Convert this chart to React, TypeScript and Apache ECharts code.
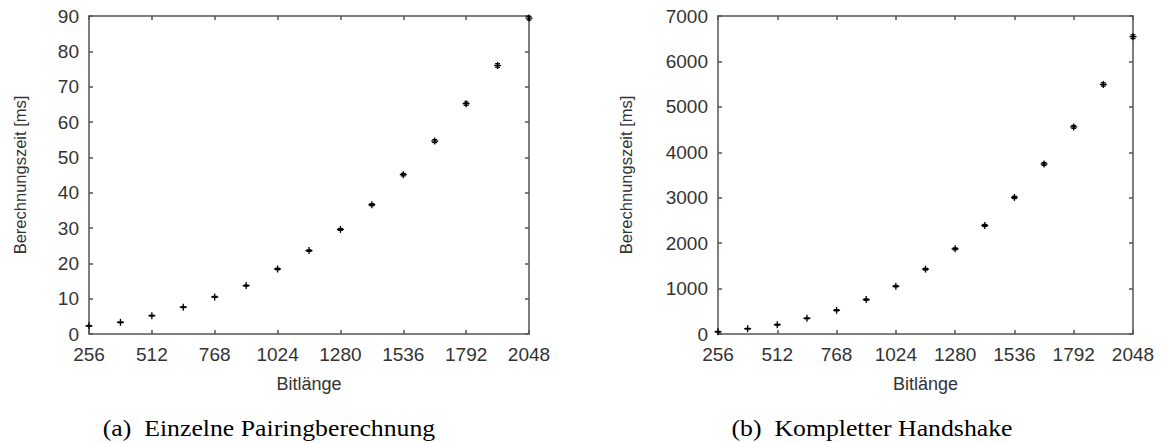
import React, { useEffect, useRef } from "react";
import * as echarts from "echarts";

const bitLengths = [256, 384, 512, 640, 768, 896, 1024, 1152, 1280, 1408, 1536, 1664, 1792, 1920, 2048];
const pairingMs = [2.3, 3.3, 5.2, 7.6, 10.5, 13.7, 18.4, 23.6, 29.6, 36.6, 45.1, 54.6, 65.2, 76.0, 89.4];
const pairingErr = [0.1, 0.1, 0.1, 0.1, 0.15, 0.15, 0.2, 0.2, 0.25, 0.3, 0.35, 0.4, 0.45, 0.5, 0.5];
const handshakeMs = [50, 117, 205, 345, 522, 757, 1052, 1427, 1875, 2389, 3007, 3743, 4559, 5494, 6544];
const handshakeErr = [8, 8, 10, 10, 12, 15, 15, 18, 20, 22, 25, 30, 30, 35, 40];
const captionA = "(a)\u2002Einzelne Pairingberechnung";
const captionB = "(b)\u2002Kompletter Handshake";
const xName = "Bitlänge";
const yName = "Berechnungszeit [ms]";

const SANS = "'Liberation Sans', Arial, Helvetica, sans-serif";
const SERIF = "'Liberation Serif', 'Times New Roman', serif";
const AXIS_COLOR = "#555";
const TEXT_COLOR = "#333";
const plain = (v: number) => String(v);

const renderItem = (params: any, api: any) => {
  const x = api.value(0);
  const y = api.value(1);
  const e = api.value(2);
  const c = api.coord([x, y]);
  const t = api.coord([x, y + e]);
  const b = api.coord([x, y - e]);
  const h = 3.5;
  const cap = 2.5;
  const style = { stroke: "#000", lineWidth: 1.3, fill: "none" };
  return {
    type: "group",
    children: [
      { type: "line", shape: { x1: c[0] - h, y1: c[1], x2: c[0] + h, y2: c[1] }, style },
      { type: "line", shape: { x1: c[0], y1: c[1] - h, x2: c[0], y2: c[1] + h }, style },
      { type: "line", shape: { x1: t[0], y1: t[1], x2: b[0], y2: b[1] }, style },
      { type: "line", shape: { x1: t[0] - cap, y1: t[1], x2: t[0] + cap, y2: t[1] }, style },
      { type: "line", shape: { x1: b[0] - cap, y1: b[1], x2: b[0] + cap, y2: b[1] }, style },
    ],
  };
};

const lineStyle = { color: AXIS_COLOR, width: 1.5 };

function xAxes(gi: number) {
  return [
    {
      type: "value",
      gridIndex: gi,
      position: "bottom",
      min: 256,
      max: 2048,
      interval: 256,
      name: xName,
      nameLocation: "middle",
      nameGap: 41,
      nameTextStyle: { fontFamily: SANS, fontSize: 18, color: TEXT_COLOR },
      axisLine: { show: true, onZero: false, lineStyle },
      axisTick: { show: true, inside: true, length: 4, lineStyle },
      axisLabel: { fontFamily: SANS, fontSize: 19, color: TEXT_COLOR, margin: 11, formatter: plain, showMinLabel: true, showMaxLabel: true },
      splitLine: { show: false },
    },
    {
      type: "value",
      gridIndex: gi,
      position: "top",
      min: 256,
      max: 2048,
      interval: 256,
      axisLine: { show: true, onZero: false, lineStyle },
      axisTick: { show: true, inside: true, length: 4, lineStyle },
      axisLabel: { show: false },
      splitLine: { show: false },
    },
  ];
}

function yAxes(gi: number, max: number, interval: number, nameGap: number) {
  return [
    {
      type: "value",
      gridIndex: gi,
      position: "left",
      min: 0,
      max,
      interval,
      name: yName,
      nameLocation: "middle",
      nameGap,
      nameTextStyle: { fontFamily: SANS, fontSize: 16.5, color: TEXT_COLOR },
      axisLine: { show: true, onZero: false, lineStyle },
      axisTick: { show: true, inside: true, length: 4, lineStyle },
      axisLabel: { fontFamily: SANS, fontSize: 19, color: TEXT_COLOR, margin: 10, formatter: plain },
      splitLine: { show: false },
    },
    {
      type: "value",
      gridIndex: gi,
      position: "right",
      min: 0,
      max,
      interval,
      axisLine: { show: true, onZero: false, lineStyle },
      axisTick: { show: true, inside: true, length: 4, lineStyle },
      axisLabel: { show: false },
      splitLine: { show: false },
    },
  ];
}

export default function App() {
  const ref = useRef<HTMLDivElement>(null);
  useEffect(() => {
    if (!ref.current) return;
    const chart = echarts.init(ref.current, null, { renderer: "svg" });
    chart.setOption({
      animation: false,
      backgroundColor: "#fff",
      grid: [
        { left: 89, top: 16, width: 440, height: 318 },
        { left: 718, top: 16, width: 415, height: 318 },
      ],
      xAxis: [...xAxes(0), ...xAxes(1)],
      yAxis: [...yAxes(0, 90, 10, 61), ...yAxes(1, 7000, 1000, 84)],
      series: [
        {
          type: "custom",
          xAxisIndex: 0,
          yAxisIndex: 0,
          clip: false,
          renderItem,
          data: bitLengths.map((b, i) => [b, pairingMs[i], pairingErr[i]]),
        },
        {
          type: "custom",
          xAxisIndex: 2,
          yAxisIndex: 2,
          clip: false,
          renderItem,
          data: bitLengths.map((b, i) => [b, handshakeMs[i], handshakeErr[i]]),
        },
      ],
      graphic: [
        {
          type: "text",
          x: 269,
          y: 428,
          scaleX: 1.12,
          style: { text: captionA, fontFamily: SERIF, fontSize: 23, fill: "#000", textAlign: "center", textVerticalAlign: "middle" },
        },
        {
          type: "text",
          x: 872,
          y: 428,
          scaleX: 1.12,
          style: { text: captionB, fontFamily: SERIF, fontSize: 23, fill: "#000", textAlign: "center", textVerticalAlign: "middle" },
        },
      ],
    });
    return () => chart.dispose();
  }, []);
  return <div ref={ref} style={{ position: "absolute", left: 0, top: 0, width: 1164, height: 443 }} />;
}
